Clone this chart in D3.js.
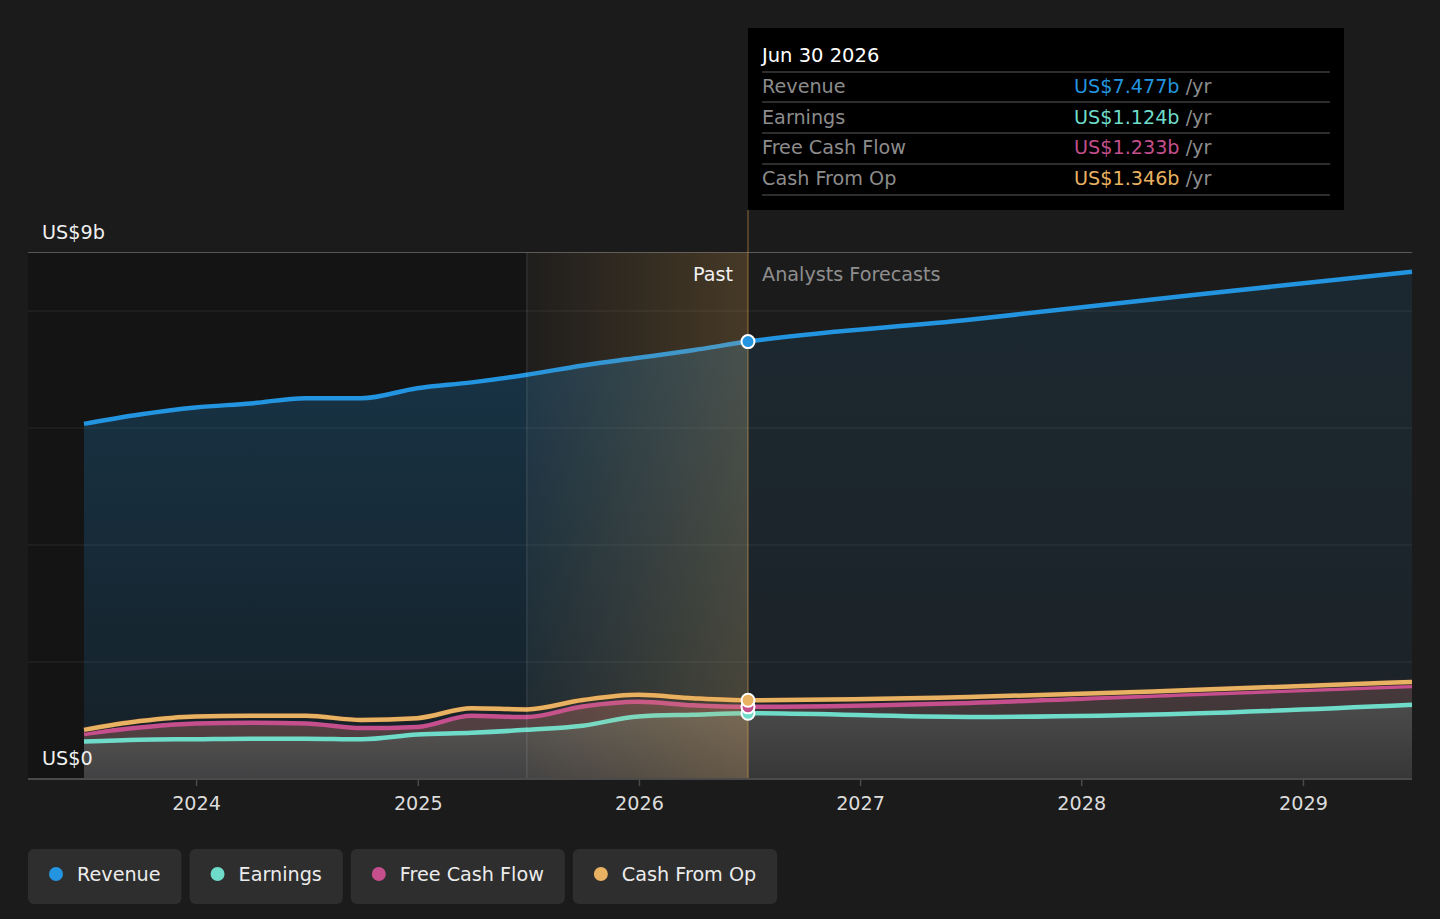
<!DOCTYPE html>
<html>
<head>
<meta charset="utf-8">
<script src="https://cdn.jsdelivr.net/npm/d3@7"></script>
<style>
  body { margin: 0; background: #1b1b1b; }
  svg { display: block; font-family: "DejaVu Sans", sans-serif; }
</style>
</head>
<body>
<svg id="chart" width="1440" height="919"></svg>
<script>
// quarterly reported figures (US$ b)
const pastDates = ["2023-06-30", "2023-09-30", "2023-12-31", "2024-03-31", "2024-06-30", "2024-09-30", "2024-12-31",
  "2025-03-31", "2025-06-30", "2025-09-30", "2025-12-31", "2026-03-31", "2026-06-30"];
const revenuePast = [6.07, 6.23, 6.35, 6.42, 6.51, 6.51, 6.68, 6.78, 6.91, 7.07, 7.20, 7.33, 7.477];
const earningsPast = [0.64, 0.67, 0.68, 0.69, 0.69, 0.68, 0.76, 0.79, 0.84, 0.91, 1.07, 1.10, 1.124];
const fcfPast = [0.77, 0.88, 0.95, 0.96, 0.95, 0.87, 0.89, 1.08, 1.06, 1.24, 1.32, 1.26, 1.233];
const cfoPast = [0.84, 0.99, 1.07, 1.08, 1.08, 1.01, 1.04, 1.21, 1.19, 1.35, 1.44, 1.38, 1.346];

// analyst forecasts
const forecastDates = ["2026-06-30", "2027-06-30", "2028-06-30", "2029-06-30"];
const revenueForecast = [7.477, 7.85, 8.27, 8.67];
const earningsForecast = [1.124, 1.06, 1.12, 1.27];
const fcfForecast = [1.233, 1.30, 1.45, 1.59];
const cfoForecast = [1.346, 1.40, 1.52, 1.66];

const yTicks = [0, 2, 4, 6, 8, 9];
const xTicks = ["2024-01-01", "2025-01-01", "2026-01-01", "2027-01-01", "2028-01-01", "2029-01-01"];

const seriesNames = ["Revenue", "Earnings", "Free Cash Flow", "Cash From Op"];
const seriesColors = ["#2394df", "#6fdcca", "#c44f8c", "#e9b162"];
const tooltipValues = ["US$7.477b", "US$1.124b", "US$1.233b", "US$1.346b"];

const parse = d3.timeParse("%Y-%m-%d");
const svg = d3.select("#chart");
const fs = 19.2;

const left = 28, right = 1412;
const x = d3.scaleTime()
  .domain([parse("2023-06-30"), parse("2029-06-30")])
  .range([84, 1412]);
const y = d3.scaleLinear().domain([0, 9]).range([779, 252.5]);

const nowDate = parse("2026-06-30");
const bandStart = parse("2025-06-30");
const xNow = x(nowDate);

function build(past, fc) {
  let pts = pastDates.map((d, i) => ({ date: parse(d), v: past[i] }));
  forecastDates.slice(1).forEach((d, i) => pts.push({ date: parse(d), v: fc[i + 1] }));
  return pts;
}
const revenue = build(revenuePast, revenueForecast);
const earnings = build(earningsPast, earningsForecast);
const fcf = build(fcfPast, fcfForecast);
const cfo = build(cfoPast, cfoForecast);

const defs = svg.append("defs");

defs.append("clipPath").attr("id", "clipPast")
  .append("rect").attr("x", left).attr("y", 0).attr("width", xNow - left).attr("height", 779);
defs.append("clipPath").attr("id", "clipFuture")
  .append("rect").attr("x", xNow).attr("y", 0).attr("width", right - xNow).attr("height", 779);

function vGrad(id, y1, y2, stops) {
  let g = defs.append("linearGradient").attr("id", id)
    .attr("gradientUnits", "userSpaceOnUse")
    .attr("x1", 0).attr("x2", 0).attr("y1", y1).attr("y2", y2);
  stops.forEach(s => g.append("stop").attr("offset", s[0]).attr("stop-color", s[1]).attr("stop-opacity", s[2]));
}
vGrad("revPast", 340, 779, [[0, "#2394df", 0.25], [1, "#2394df", 0.09]]);
vGrad("revFuture", 270, 779, [[0, "#2394df", 0.11], [1, "#2394df", 0.06]]);
vGrad("cashPast", 690, 779, [[0, "#5c4447", 0.95], [1, "#4a3c3e", 0.95]]);
vGrad("cashFuture", 680, 779, [[0, "#483a3c", 0.95], [1, "#3c3434", 0.95]]);
vGrad("earnPast", 710, 779, [[0, "#5b5955", 1], [1, "#414143", 1]]);
vGrad("earnFuture", 700, 779, [[0, "#4c4c4c", 1], [1, "#373737", 1]]);

let band = defs.append("linearGradient").attr("id", "band")
  .attr("gradientUnits", "userSpaceOnUse")
  .attr("x1", x(bandStart)).attr("x2", xNow).attr("y1", 0).attr("y2", 0);
band.append("stop").attr("offset", 0).attr("stop-color", "#e9aa50").attr("stop-opacity", 0.02);
band.append("stop").attr("offset", 1).attr("stop-color", "#e9aa50").attr("stop-opacity", 0.21);

// darker past background
svg.append("rect")
  .attr("x", left).attr("y", y(9))
  .attr("width", x(bandStart) - left).attr("height", y(0) - y(9))
  .attr("fill", "#141414");

// gridlines
svg.append("g").selectAll("line")
  .data(yTicks.filter(t => t > 0))
  .join("line")
  .attr("x1", left).attr("x2", right)
  .attr("y1", d => y(d)).attr("y2", d => y(d))
  .attr("stroke", d => d == 9 ? "rgba(255,255,255,0.28)" : "rgba(255,255,255,0.09)")
  .attr("stroke-width", 1);

const curve = d3.curveMonotoneX;
const area = d3.area().x(d => x(d.date)).y0(y(0)).y1(d => y(d.v)).curve(curve);
const line = d3.line().x(d => x(d.date)).y(d => y(d.v)).curve(curve);

// areas, past and forecast painted differently
[["Past", "clipPast"], ["Future", "clipFuture"]].forEach(([k, clip]) => {
  let g = svg.append("g").attr("clip-path", `url(#${clip})`);
  g.append("path").attr("d", area(revenue)).attr("fill", `url(#rev${k})`);
  g.append("path").attr("d", area(fcf)).attr("fill", `url(#cash${k})`);
  g.append("path").attr("d", area(earnings)).attr("fill", `url(#earn${k})`);
});

// lines
const lines = svg.append("g").attr("fill", "none").attr("stroke-linecap", "butt");
[[earnings, 1], [fcf, 2], [cfo, 3], [revenue, 0]].forEach(([data, i]) => {
  if (i == 3) {
    lines.append("path").attr("d", line(data))
      .attr("stroke", "#2a2626").attr("stroke-width", 6);
  }
  lines.append("path").attr("d", line(data))
    .attr("stroke", seriesColors[i]).attr("stroke-width", 4.5);
});

// highlighted last year of history
svg.append("rect")
  .attr("x", x(bandStart)).attr("y", y(9))
  .attr("width", xNow - x(bandStart)).attr("height", y(0) - y(9))
  .attr("fill", "url(#band)");
svg.append("line")
  .attr("x1", x(bandStart)).attr("x2", x(bandStart))
  .attr("y1", y(9)).attr("y2", y(0))
  .attr("stroke", "rgba(255,255,255,0.14)");
svg.append("line")
  .attr("x1", xNow).attr("x2", xNow)
  .attr("y1", 210).attr("y2", y(0))
  .attr("stroke", "rgba(233,170,80,0.55)");

// x axis
svg.append("line")
  .attr("x1", left).attr("x2", right)
  .attr("y1", y(0)).attr("y2", y(0))
  .attr("stroke", "#4a4a4a").attr("stroke-width", 2);
const xAxis = svg.append("g")
  .attr("transform", `translate(0,${y(0)})`)
  .call(d3.axisBottom(x).tickValues(xTicks.map(parse)).tickFormat(d3.timeFormat("%Y")).tickSize(7).tickPadding(10));
xAxis.select(".domain").remove();
xAxis.selectAll("line").attr("stroke", "#4a4a4a").attr("stroke-width", 1.5);
xAxis.selectAll("text").attr("fill", "#dcdcdc").attr("font-size", fs).attr("font-family", "DejaVu Sans");

// y labels
svg.append("text").attr("x", 42).attr("y", 239).attr("fill", "#f0f0f0").attr("font-size", fs).text("US$9b");
svg.append("text").attr("x", 42).attr("y", 765).attr("fill", "#f0f0f0").attr("font-size", fs).text("US$0");

svg.append("text").attr("x", xNow - 15).attr("y", 281).attr("text-anchor", "end")
  .attr("fill", "#f0f0f0").attr("font-size", fs).text("Past");
svg.append("text").attr("x", xNow + 14).attr("y", 281)
  .attr("fill", "#8e8e8e").attr("font-size", fs).text("Analysts Forecasts");

// markers at the current date
const nowVals = [revenuePast, earningsPast, fcfPast, cfoPast].map(a => a[a.length - 1]);
[1, 2, 3, 0].forEach(i => {
  svg.append("circle")
    .attr("cx", xNow).attr("cy", y(nowVals[i])).attr("r", 6.5)
    .attr("fill", seriesColors[i]).attr("stroke", "#fff").attr("stroke-width", 2);
});

// tooltip
const tip = svg.append("g").attr("transform", "translate(748,28)");
tip.append("rect").attr("width", 596).attr("height", 182).attr("fill", "#000");
tip.append("text").attr("x", 14).attr("y", 34).attr("fill", "#fff").attr("font-size", 19.5).text("Jun 30 2026");
[44, 74, 105, 136, 167].forEach(yy => {
  tip.append("line").attr("x1", 14).attr("x2", 582).attr("y1", yy).attr("y2", yy)
    .attr("stroke", "#3c3c3c").attr("stroke-width", 1.5);
});
seriesNames.forEach((name, i) => {
  let yy = 65 + i * 30.7;
  tip.append("text").attr("x", 14).attr("y", yy).attr("fill", "#8c8c8c").attr("font-size", fs).text(name);
  let t = tip.append("text").attr("x", 326).attr("y", yy).attr("font-size", fs);
  t.append("tspan").attr("fill", seriesColors[i]).text(tooltipValues[i]);
  t.append("tspan").attr("fill", "#8c8c8c").text(" /yr");
});

// legend
const legend = svg.append("g");
let lx = 28;
seriesNames.forEach((name, i) => {
  let g = legend.append("g").attr("transform", `translate(${lx},849)`);
  let rect = g.append("rect").attr("height", 55).attr("rx", 6).attr("fill", "#2e2e2e");
  g.append("circle").attr("cx", 28).attr("cy", 25).attr("r", 7).attr("fill", seriesColors[i]);
  let t = g.append("text").attr("x", 49).attr("y", 32).attr("fill", "#ececec").attr("font-size", fs).text(name);
  let w = 49 + t.node().getComputedTextLength() + 21;
  rect.attr("width", w);
  lx += w + 8;
});
</script>
</body>
</html>
